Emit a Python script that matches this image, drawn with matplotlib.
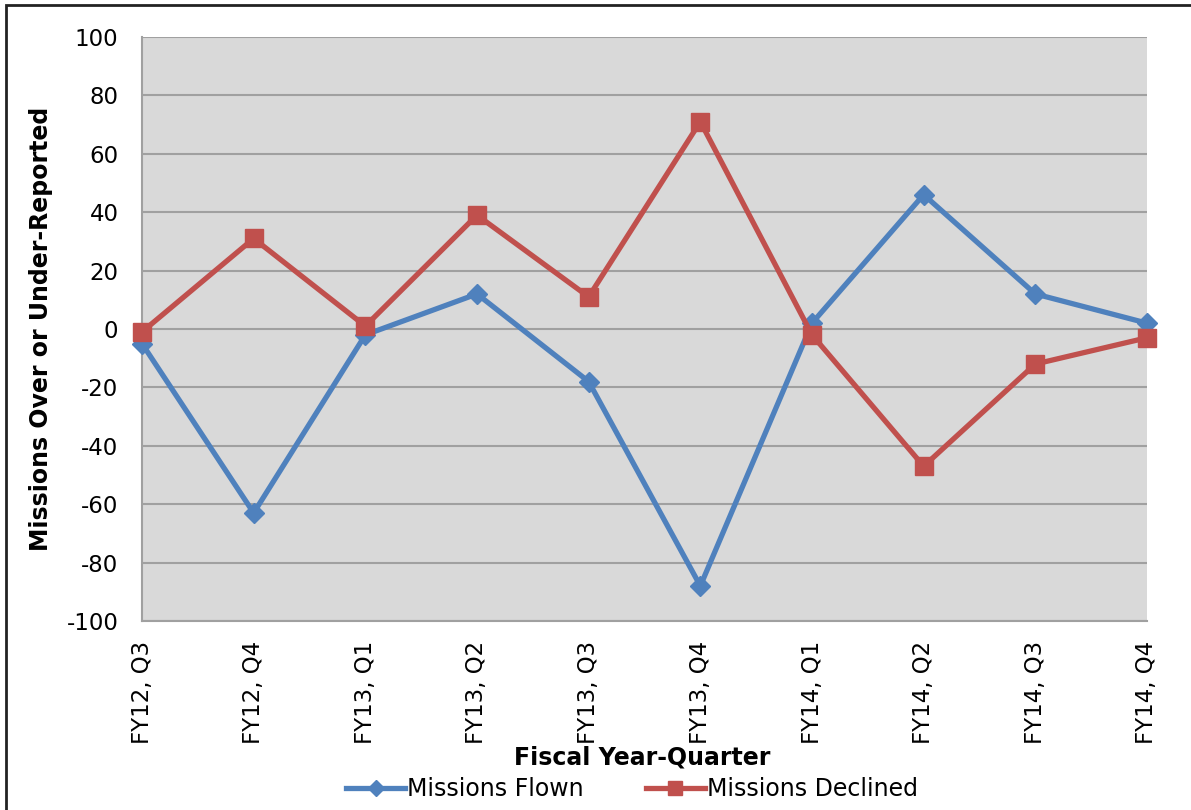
import matplotlib
matplotlib.use("Agg")
import matplotlib.pyplot as plt
from matplotlib.patches import Rectangle
from matplotlib.lines import Line2D

categories = ["FY12, Q3", "FY12, Q4", "FY13, Q1", "FY13, Q2", "FY13, Q3",
              "FY13, Q4", "FY14, Q1", "FY14, Q2", "FY14, Q3", "FY14, Q4"]
flown = [-5, -63, -2, 12, -18, -88, 2, 46, 12, 2]
declined = [-1, 31, 1, 39, 11, 71, -2, -47, -12, -3]
yticks = [-100, -80, -60, -40, -20, 0, 20, 40, 60, 80, 100]

blue = "#4f81bd"
red = "#c0504d"

fig = plt.figure(figsize=(11.91, 8.10), dpi=100)
ax = fig.add_axes([142/1191, 1 - 621/810, (1147-142)/1191, (621-37)/810])
ax.set_facecolor("#d9d9d9")

x = list(range(len(categories)))
ax.plot(x, flown, color=blue, lw=3.8, marker="D", ms=10.5, label="Missions Flown",
        clip_on=False, zorder=3)
ax.plot(x, declined, color=red, lw=3.8, marker="s", ms=13, label="Missions Declined",
        clip_on=False, zorder=4)

ax.set_xlim(0, len(categories) - 1)
ax.set_ylim(-100, 100)
ax.set_yticks(yticks)
ax.set_yticklabels([str(v) for v in yticks], fontsize=16.5)
ax.set_xticks(x)
ax.set_xticklabels(categories, rotation=90, fontsize=16.5, va="top", ha="center")
ax.tick_params(length=0)
ax.tick_params(axis="y", pad=17)
ax.tick_params(axis="x", pad=14)
ax.yaxis.grid(True, color="#a0a0a0", lw=1.5)
ax.set_axisbelow(True)
for s in ["top", "right"]:
    ax.spines[s].set_visible(False)
for s in ["left", "bottom"]:
    ax.spines[s].set_color("#a0a0a0")
    ax.spines[s].set_linewidth(1.5)

ax.set_ylabel("Missions Over or Under-Reported", fontsize=17, fontweight="bold")
ax.yaxis.set_label_coords((53-142)/1005, 0.5)
fig.text(642/1191, 1 - 757/810, "Fiscal Year-Quarter", fontsize=17, fontweight="bold",
         ha="center", va="center")

handles = [Line2D([], [], color=blue, lw=3.8, marker="D", ms=8),
           Line2D([], [], color=red, lw=3.8, marker="s", ms=10)]
fig.legend(handles, ["Missions Flown", "Missions Declined"], loc="center",
           bbox_to_anchor=(632/1191, 1 - 789/810), ncol=2, frameon=False,
           fontsize=17, handlelength=2.5, handletextpad=0.1, columnspacing=2.6,
           borderpad=0)

# outer border (left and top visible)
fig.patches.append(Rectangle((6/1191, -0.05), 1.2, 1 - 5/810 + 0.05,
                             transform=fig.transFigure, fill=False,
                             edgecolor="#222222", lw=2))

fig.savefig("out.png", dpi=100)
